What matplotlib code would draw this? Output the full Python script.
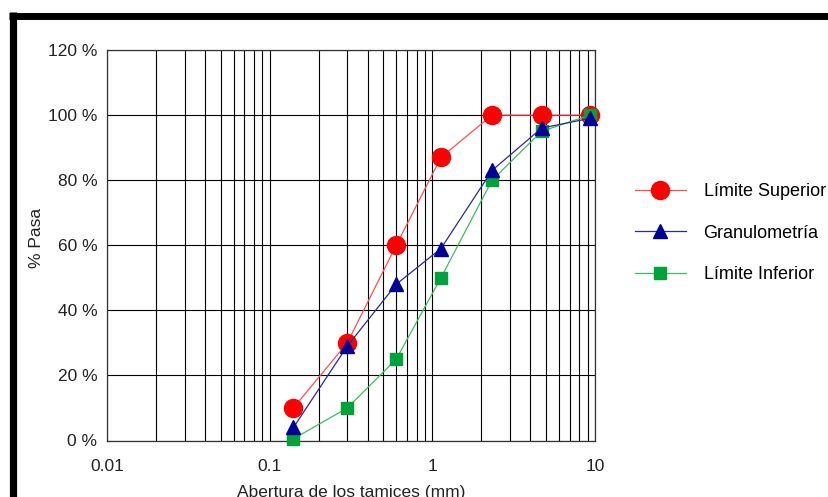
import matplotlib
matplotlib.use('Agg')
import matplotlib.pyplot as plt
from matplotlib.lines import Line2D
from matplotlib.ticker import LogLocator, FixedLocator, NullFormatter

plt.rcParams['font.family'] = ['Liberation Sans', 'DejaVu Sans']

# datos
tamices = [0.14, 0.30, 0.60, 1.13, 2.33, 4.70, 9.30]
limite_superior = [10, 30, 60, 87, 100, 100, 100]
granulometria = [4, 29, 48, 59, 83, 96, 99]
limite_inferior = [0.5, 10, 25, 50, 80, 95, 100]

y_ticks = [0, 20, 40, 60, 80, 100, 120]
x_ticks = [0.01, 0.1, 1, 10]
x_tick_labels = ['0.01', '0.1', '1', '10']

fig = plt.figure(figsize=(8.29, 4.97), dpi=100)
ax = fig.add_axes([107 / 829, 1 - 440.5 / 497, 488 / 829, 390.5 / 497])

# marco negro
fig.add_artist(Line2D([9 / 829, 1], [1 - 15.5 / 497] * 2, color='black', lw=5.0,
                      solid_capstyle='butt', transform=fig.transFigure))
fig.add_artist(Line2D([12.8 / 829] * 2, [1 - 12 / 497, 0], color='black', lw=5.2,
                      solid_capstyle='butt', transform=fig.transFigure))

sup, = ax.plot(tamices, limite_superior, color='#ff5050', lw=0.9, marker='o', ms=13,
               mfc='#ff0000', mec='#ff0000', label='Límite Superior', clip_on=False, zorder=3)
inf, = ax.plot(tamices, limite_inferior, color='#3cbf5a', lw=0.9, marker='s', ms=9,
               mfc='#00a23c', mec='#00a23c', label='Límite Inferior', clip_on=False, zorder=4)
gra, = ax.plot(tamices, granulometria, color='#2a2a9a', lw=0.9, marker='^', ms=10,
               mfc='#000099', mec='#000099', label='Granulometría', clip_on=False, zorder=5)

ax.set_xscale('log')
ax.set_xlim(0.01, 10)
ax.set_ylim(0, 120)
ax.xaxis.set_major_locator(FixedLocator(x_ticks))
ax.set_xticklabels(x_tick_labels)
ax.xaxis.set_minor_locator(LogLocator(base=10, subs=range(2, 10)))
ax.xaxis.set_minor_formatter(NullFormatter())
ax.set_yticks(y_ticks)
ax.set_yticklabels([f'{v} %' for v in y_ticks])

ax.grid(True, which='both', color='black', lw=0.8)
ax.set_axisbelow(True)
for s in ax.spines.values():
    s.set_color('#333333')
    s.set_linewidth(0.9)
ax.tick_params(which='both', length=0, labelsize=12.5, colors='#222222')
ax.tick_params(axis='y', pad=7)
ax.tick_params(axis='x', pad=13)

ax.set_xlabel('Abertura de los tamices (mm)', fontsize=12.5, color='#222222')
ax.xaxis.set_label_coords(0.5, -0.115)
ax.set_ylabel('% Pasa', fontsize=12.5, color='#222222')
ax.yaxis.set_label_coords(-0.129, 0.52)

fig.legend(handles=[sup, gra, inf], loc='center left', bbox_to_anchor=(635 / 829, 1 - 233 / 497),
           frameon=False, fontsize=13, numpoints=1, handlelength=2.8, handletextpad=1.0,
           labelspacing=1.35, borderpad=0, borderaxespad=0)

fig.savefig('out.png', dpi=100)
